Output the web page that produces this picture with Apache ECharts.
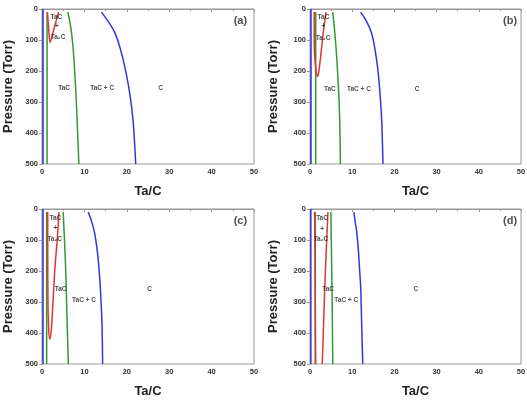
<!DOCTYPE html>
<html>
<head>
<meta charset="utf-8">
<script src="https://cdn.jsdelivr.net/npm/echarts@6/dist/echarts.min.js"></script>
<style>html,body{margin:0;padding:0;background:#fff}#c{width:527px;height:400px}</style>
</head>
<body>
<div id="c"></div>
<script>
// ---- data (Ta/C, Pressure Torr) ----
const xTicks = [0, 10, 20, 30, 40, 50];
const yTicks = [0, 100, 200, 300, 400, 500];

const aBlueV = [[0.25, 0], [0.25, 500]];
const aRed = [[1.3, 10], [1.5, 50], [1.9, 108], [2.4, 85], [3.1, 50], [3.9, 10]];
const aGreenL = [[1.2, 10], [1.2, 500]];
const aGreenR = [[6.1, 10], [6.8, 60], [7.3, 120], [7.7, 200], [8.1, 300], [8.4, 400], [8.7, 500]];
const aBlueR = [[14.0, 10], [15.6, 40], [17.2, 77], [18.5, 130], [19.5, 185], [20.3, 240], [20.9, 292], [21.4, 350], [21.7, 400], [22.1, 500]];

const bBlueV = [[0.24, 0], [0.24, 500]];
const bRed = [[1.0, 10], [1.0, 80], [1.1, 150], [1.4, 195], [1.8, 218], [2.2, 190], [2.7, 132], [3.2, 70], [3.8, 10]];
const bGreenL = [[1.35, 10], [1.35, 500]];
const bGreenR = [[5.4, 10], [5.9, 80], [6.3, 150], [6.6, 220], [6.9, 300], [7.1, 400], [7.2, 500]];
const bBlueR = [[12.0, 10], [13.4, 40], [14.6, 78], [15.4, 130], [16.0, 186], [16.4, 240], [16.7, 294], [17.0, 360], [17.1, 400], [17.3, 500]];

const cBlueV = [[0.24, 0], [0.24, 500]];
const cRed = [[1.35, 10], [1.35, 150], [1.4, 280], [1.5, 360], [1.8, 420], [2.2, 390], [2.5, 320], [2.8, 250], [3.0, 200], [3.4, 130], [3.6, 100], [4.0, 10]];
const cGreenL = [[1.1, 10], [1.1, 500]];
const cGreenR = [[5.0, 10], [5.3, 100], [5.6, 200], [5.8, 300], [6.0, 400], [6.2, 500]];
const cBlueR = [[10.9, 10], [11.7, 40], [12.4, 77], [13.0, 130], [13.4, 185], [13.7, 240], [13.9, 292], [14.1, 350], [14.2, 400], [14.3, 500]];

const dBlueV = [[0.2, 0], [0.2, 500]];
const dRedL = [[1.1, 10], [1.35, 500]];
const dRedR = [[4.25, 10], [3.9, 120], [3.5, 250], [3.2, 380], [2.9, 500]];
const dGreenL = [[1.25, 10], [1.25, 500]];
const dGreenR = [[4.95, 10], [5.1, 150], [5.25, 300], [5.4, 500]];
const dBlueR = [[10.4, 10], [10.8, 50], [11.1, 77], [11.5, 140], [11.7, 185], [12.0, 250], [12.1, 292], [12.3, 400], [12.5, 500]];

const aLabels = [['TaC', 3.4, 26], ['+', 3.5, 56], ['Ta\u2082C', 3.8, 91], ['TaC', 5.2, 257], ['TaC + C', 14.2, 257], ['C', 28, 257]];
const bLabels = [['TaC', 3.2, 26], ['+', 3.2, 56], ['Ta\u2082C', 3.1, 94], ['TaC', 4.7, 258], ['TaC + C', 11.6, 258], ['C', 25.4, 258]];
const cLabels = [['TaC', 3.15, 29], ['+', 3.15, 61], ['Ta\u2082C', 3.0, 97], ['TaC', 4.4, 260], ['TaC + C', 9.9, 295], ['C', 25.4, 260]];
const dLabels = [['TaC', 2.85, 29], ['+', 2.85, 64], ['Ta\u2082C', 2.6, 99], ['TaC', 4.3, 260], ['TaC + C', 8.6, 295], ['C', 25.1, 260]];
const panelTags = [['(a)', 46.8, 40], ['(b)', 47.4, 40], ['(c)', 46.8, 40], ['(d)', 47.4, 40]];

// ---- styles ----
const BLUE = '#3535dd', RED = '#e0342f', GREEN = '#2f9a35';
const grids = [
  {left: 42, top: 9, width: 212, height: 155},
  {left: 310, top: 9, width: 211, height: 155},
  {left: 42, top: 209, width: 212, height: 155},
  {left: 310, top: 209, width: 211, height: 155}
];
const yGaps = [27, 30, 27, 30];

const xAxis = grids.map((g, i) => ({
  gridIndex: i, type: 'value', min: xTicks[0], max: xTicks[xTicks.length - 1], interval: 10,
  name: 'Ta/C', nameLocation: 'middle', nameGap: 21,
  nameTextStyle: {fontFamily: 'Liberation Sans, Arial', fontWeight: 'bold', fontSize: 13, color: '#222'},
  axisLine: {show: true, lineStyle: {color: '#999', width: 1}},
  axisTick: {show: true, length: 3, lineStyle: {color: '#999'}},
  minorTick: {show: true, splitNumber: 2, length: 2, lineStyle: {color: '#999'}},
  splitLine: {show: false},
  axisLabel: {fontFamily: 'Liberation Sans, Arial', fontWeight: 'bold', fontSize: 7.5, color: '#333', margin: 4}
}));
const yAxis = grids.map((g, i) => ({
  gridIndex: i, type: 'value', min: yTicks[0], max: yTicks[yTicks.length - 1], interval: 100, inverse: true,
  name: 'Pressure (Torr)', nameLocation: 'middle', nameGap: yGaps[i],
  nameTextStyle: {fontFamily: 'Liberation Sans, Arial', fontWeight: 'bold', fontSize: 13, color: '#222'},
  axisLine: {show: true, lineStyle: {color: '#999', width: 1}},
  axisTick: {show: true, length: 3, lineStyle: {color: '#999'}},
  splitLine: {show: false},
  axisLabel: {fontFamily: 'Liberation Sans, Arial', fontWeight: 'bold', fontSize: 7.5, color: '#333', margin: 4}
}));

function line(data, color, idx, smooth) {
  return {type: 'line', data: data, xAxisIndex: idx, yAxisIndex: idx, symbol: 'none', showSymbol: false,
    smooth: smooth || 0, lineStyle: {color: color, width: 1.5}, silent: true, z: 3};
}
function labels(list, idx, size) {
  return {type: 'scatter', xAxisIndex: idx, yAxisIndex: idx, symbolSize: 0, silent: true, z: 5,
    data: list.map(l => ({name: l[0], value: [l[1], l[2]]})),
    label: {show: true, position: 'inside', formatter: p => p.name,
      fontFamily: 'Liberation Sans, Arial', fontWeight: 'bold', fontSize: size, color: '#222'}};
}

const series = [
  line(aBlueV, BLUE, 0), line(aGreenL, GREEN, 0), line(aRed, RED, 0, 0.3), line(aGreenR, GREEN, 0, 0.4), line(aBlueR, BLUE, 0, 0.4),
  line(bBlueV, BLUE, 1), line(bGreenL, GREEN, 1), line(bRed, RED, 1, 0.4), line(bGreenR, GREEN, 1, 0.4), line(bBlueR, BLUE, 1, 0.4),
  line(cBlueV, BLUE, 2), line(cGreenL, GREEN, 2), line(cRed, RED, 2, 0.4), line(cGreenR, GREEN, 2, 0.4), line(cBlueR, BLUE, 2, 0.4),
  line(dBlueV, BLUE, 3), line(dGreenL, GREEN, 3), line(dRedL, RED, 3), line(dRedR, RED, 3, 0.4), line(dGreenR, GREEN, 3, 0.4), line(dBlueR, BLUE, 3, 0.4),
  labels(aLabels, 0, 6.5), labels(bLabels, 1, 6.5), labels(cLabels, 2, 6.5), labels(dLabels, 3, 6.5)
];
panelTags.forEach((t, i) => series.push(labels([t], i, 11)));

const chart = echarts.init(document.getElementById('c'), null, {renderer: 'canvas'});
chart.setOption({
  animation: false,
  backgroundColor: '#fff',
  grid: grids.map(g => Object.assign({show: true, borderColor: '#999', borderWidth: 1, backgroundColor: 'transparent', containLabel: false, outerBoundsMode: 'none'}, g)),
  xAxis: xAxis,
  yAxis: yAxis,
  series: series
});
</script>
</body>
</html>
